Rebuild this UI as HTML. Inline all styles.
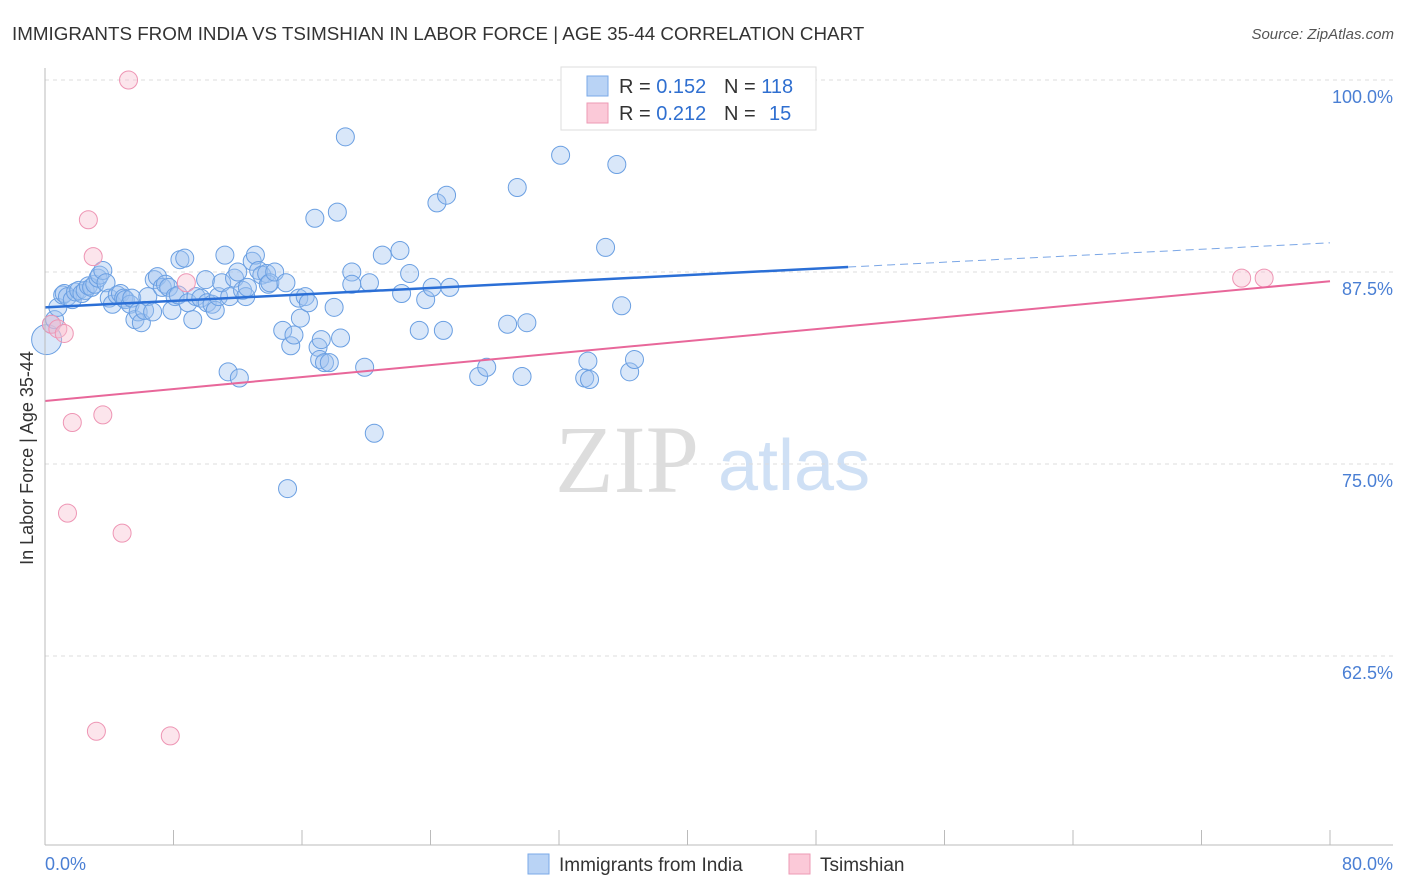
<!DOCTYPE html>
<html><head><meta charset="utf-8"><style>
body{margin:0;background:#fff;font-family:"Liberation Sans",sans-serif}
#wrap{position:relative;width:1406px;height:892px;overflow:hidden}
</style></head><body><div id="wrap">
<svg id="svg" width="1406" height="892" xmlns="http://www.w3.org/2000/svg">
<text x="12" y="40" font-size="18.8" fill="#333">IMMIGRANTS FROM INDIA VS TSIMSHIAN IN LABOR FORCE | AGE 35-44 CORRELATION CHART</text>
<text x="1394" y="39" font-size="15" fill="#555" font-style="italic" text-anchor="end">Source: ZipAtlas.com</text>
<text x="555" y="492" font-size="96" fill="#ddd" font-family="Liberation Serif,serif">ZIP</text>
<text x="718" y="490" font-size="72" fill="#cfe0f5">atlas</text>
<g id="grid"></g><g id="pts"></g><g id="lines"></g>
<line x1="45" y1="68" x2="45" y2="845" stroke="#bbb"/>
<line x1="45" y1="845" x2="1393" y2="845" stroke="#bbb"/>
<text x="33" y="458" font-size="18" fill="#333" text-anchor="middle" transform="rotate(-90 33 458)">In Labor Force | Age 35-44</text>
<text x="45" y="870" font-size="18" fill="#4a7fd4">0.0%</text>
<text x="1393" y="870" font-size="18" fill="#4a7fd4" text-anchor="end">80.0%</text>
<g>
<rect x="561" y="67" width="255" height="63" fill="#fff" stroke="#ddd"/>
<rect x="587" y="76" width="21" height="20" fill="#b9d3f5" stroke="#7aaae8"/>
<rect x="587" y="103" width="21" height="20" fill="#fbc9d8" stroke="#ee9ab5"/>
<text x="619" y="93" font-size="20" fill="#333">R = <tspan fill="#2f6fd0">0.152</tspan></text>
<text x="724" y="93" font-size="20" fill="#333">N = <tspan fill="#2f6fd0">118</tspan></text>
<text x="619" y="120" font-size="20" fill="#333">R = <tspan fill="#2f6fd0">0.212</tspan></text>
<text x="724" y="120" font-size="20" fill="#333">N = <tspan fill="#2f6fd0" x="769">15</tspan></text>
</g>
<g>
<rect x="528" y="854" width="21" height="20" fill="#b9d3f5" stroke="#7aaae8"/>
<text x="559" y="871" font-size="19" fill="#333">Immigrants from India</text>
<rect x="789" y="854" width="21" height="20" fill="#fbc9d8" stroke="#ee9ab5"/>
<text x="820" y="871" font-size="19" fill="#333">Tsimshian</text>
</g>
</svg>
<script>
const yTicks=[100,87.5,75,62.5];
const xTicks=[0,8,16,24,32,40,48,56,64,72,80];
const blueX=[0.1,0.4,0.6,0.8,1.1,1.2,1.4,1.7,1.9,2.1,2.3,2.5,2.7,2.9,3.1,3.3,3.4,3.6,3.8,4.0,4.2,4.5,4.7,4.9,5.0,5.3,5.4,5.6,5.8,6.0,6.2,6.4,6.7,6.8,7.0,7.3,7.5,7.7,7.9,8.1,8.3,8.4,8.7,8.9,9.2,9.4,9.7,10.0,10.1,10.4,10.6,10.8,11.0,11.2,11.4,11.5,11.8,12.0,12.1,12.3,12.5,12.6,12.9,13.1,13.3,13.5,13.8,13.9,14.0,14.3,14.8,15.0,15.1,15.3,15.5,15.8,15.9,16.2,16.4,16.8,17.0,17.1,17.2,17.4,17.7,18.0,18.2,18.4,18.7,19.1,19.1,19.9,20.2,20.5,21.0,22.1,22.2,22.7,23.3,23.7,24.1,24.4,24.8,25.0,25.2,27.0,27.5,28.8,29.4,29.7,30.0,32.1,33.6,33.8,33.9,34.9,35.6,35.9,36.4,36.7,43.5];
const blueY=[83.1,84.1,84.4,85.2,86.0,86.1,85.9,85.7,86.2,86.3,86.1,86.3,86.6,86.5,86.7,87.1,87.3,87.6,86.8,85.8,85.4,86.0,86.1,85.8,85.7,85.4,85.8,84.4,84.9,84.2,85.0,85.9,84.9,87.0,87.2,86.5,86.7,86.5,85.0,85.9,86.0,88.3,88.4,85.5,84.4,85.9,85.8,87.0,85.5,85.4,85.0,85.9,86.8,88.6,81.0,85.9,87.1,87.5,80.6,86.3,85.9,86.5,88.2,88.6,87.6,87.3,87.4,86.7,86.8,87.5,83.7,86.8,73.4,82.7,83.4,85.8,84.5,85.9,85.5,91.0,82.6,81.8,83.1,81.6,81.6,85.2,91.4,83.2,96.3,87.5,86.7,81.3,86.8,77.0,88.6,88.9,86.1,87.4,83.7,85.7,86.5,92.0,83.7,92.5,86.5,80.7,81.3,84.1,93.0,80.7,84.2,95.1,80.6,81.7,80.5,89.1,94.5,85.3,81.0,81.8,100.0];
const pinkX=[0.4,0.8,1.2,2.7,3.0,1.7,3.6,1.4,4.8,3.2,7.8,5.2,8.8,74.5,75.9];
const pinkY=[84.1,83.8,83.5,90.9,88.5,77.7,78.2,71.8,70.5,57.6,57.3,100.0,86.8,87.1,87.1];
const blueTrend=[85.2,89.4]; const blueSolidEnd=50;
const pinkTrend=[79.1,86.9];
const X=v=>45+v/80*1285;
const Y=v=>80+(100-v)/12.5*192;
const NS='http://www.w3.org/2000/svg';
function mk(tag,attrs,parent){const e=document.createElementNS(NS,tag);for(const k in attrs)e.setAttribute(k,attrs[k]);document.getElementById(parent).appendChild(e);return e;}
yTicks.forEach(t=>{
 const l=mk('line',{x1:45,x2:1393,y1:Y(t),y2:Y(t),stroke:'#ddd','stroke-dasharray':'4,4'},'grid');
 
 
 const tx=mk('text',{x:1393,y:Y(t)+23,'font-size':18,fill:'#4a7fd4','text-anchor':'end'},'grid');
 tx.textContent=t.toFixed(1)+'%';
 
 
});
xTicks.forEach(t=>{
 const l=mk('line',{x1:X(t),x2:X(t),y1:830,y2:845,stroke:'#bbb'},'grid');
 
 
});
blueX.forEach((v,i)=>{
 const r=i===0?15:9;
 const c=mk('circle',{cx:X(v),cy:Y(blueY[i]),r:r,fill:'rgba(160,196,240,0.4)',stroke:'#6a9fe2','stroke-width':1},'pts');
 
 
});
pinkX.forEach((v,i)=>{
 const c=mk('circle',{cx:X(v),cy:Y(pinkY[i]),r:9,fill:'rgba(248,190,208,0.4)',stroke:'#ee95b4','stroke-width':1},'pts');
 
 
});
const bAt=v=>blueTrend[0]+(blueTrend[1]-blueTrend[0])*v/80;
let l1=mk('line',{x1:X(0),y1:Y(bAt(0)),x2:X(blueSolidEnd),y2:Y(bAt(blueSolidEnd)),stroke:'#2b6fd6','stroke-width':2.5},'lines');


let l2=mk('line',{x1:X(blueSolidEnd),y1:Y(bAt(blueSolidEnd)),x2:X(80),y2:Y(bAt(80)),stroke:'#7aa6e6','stroke-width':1,'stroke-dasharray':'8,5'},'lines');


let l3=mk('line',{x1:X(0),y1:Y(pinkTrend[0]),x2:X(80),y2:Y(pinkTrend[1]),stroke:'#e8679a','stroke-width':2},'lines');


</script>
</div></body></html>
